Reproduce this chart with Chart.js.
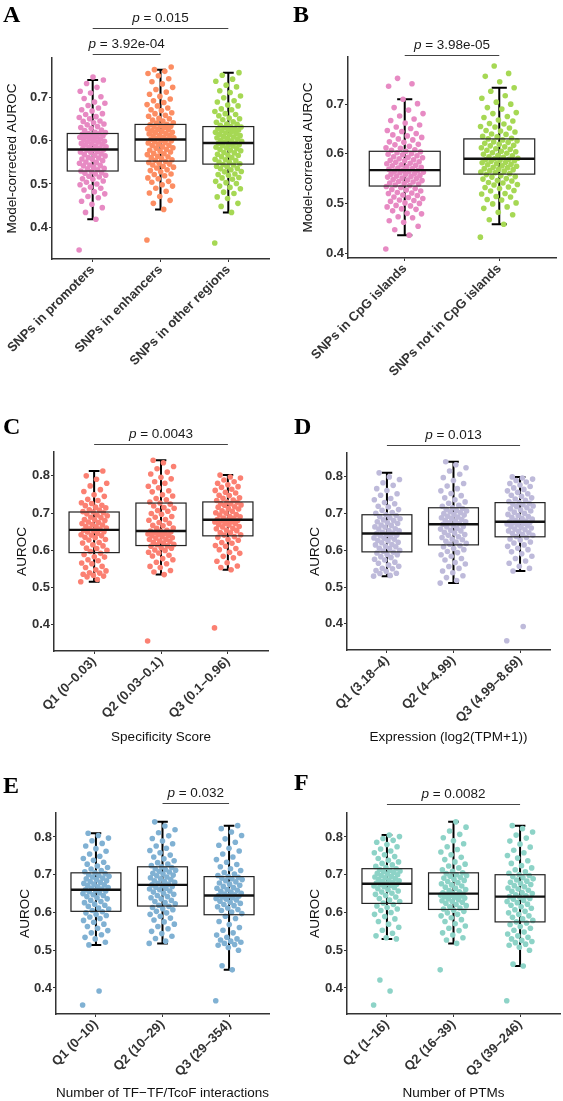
<!DOCTYPE html>
<html>
<head>
<meta charset="utf-8">
<script src="https://cdn.jsdelivr.net/npm/chart.js@4.4.0/dist/chart.umd.min.js"></script>
<style>
  body { margin: 0; background: #fff; }
  #fig { position: relative; width: 563px; height: 1101px; overflow: hidden; background: #fff; }
  canvas { position: absolute; }
  .tag { position: absolute; font: bold 24px/24px "Liberation Serif", "Times New Roman", serif; color: #000; }
</style>
</head>
<body>
<div id="fig">
  <canvas id="cA" width="281" height="380" style="left:0px;top:0px"></canvas>
  <canvas id="cB" width="282" height="380" style="left:281px;top:0px"></canvas>
  <canvas id="cC" width="281" height="366" style="left:0px;top:380px"></canvas>
  <canvas id="cD" width="282" height="366" style="left:281px;top:380px"></canvas>
  <canvas id="cE" width="281" height="356" style="left:0px;top:745px"></canvas>
  <canvas id="cF" width="282" height="356" style="left:281px;top:745px"></canvas>
  <div class="tag" style="left:3px;top:2px">A</div>
  <div class="tag" style="left:293px;top:2px">B</div>
  <div class="tag" style="left:3px;top:414px">C</div>
  <div class="tag" style="left:294px;top:414px">D</div>
  <div class="tag" style="left:3px;top:773px">E</div>
  <div class="tag" style="left:294px;top:770px">F</div>
</div>
<script>
// ---- categories / tick labels ----
const catsA = ['SNPs in promoters', 'SNPs in enhancers', 'SNPs in other regions'];
const catsB = ['SNPs in CpG islands', 'SNPs not in CpG islands'];
const catsC = ['Q1 (0\u20130.03)', 'Q2 (0.03\u20130.1)', 'Q3 (0.1\u20130.96)'];
const catsD = ['Q1 (3.18\u20134)', 'Q2 (4\u20134.99)', 'Q3 (4.99\u20138.69)'];
const catsE = ['Q1 (0\u201310)', 'Q2 (10\u201329)', 'Q3 (29\u2013354)'];
const catsF = ['Q1 (1\u201316)', 'Q2 (16\u201339)', 'Q3 (39\u2013246)'];
const ticksAB = [0.4, 0.5, 0.6, 0.7];
const ticksCF = [0.4, 0.5, 0.6, 0.7, 0.8];

// ---- p-values ----
const pvalsA = ['0.015', '3.92e-04'];
const pvalsB = ['3.98e-05'];
const pvalsC = ['0.0043'];
const pvalsD = ['0.013'];
const pvalsE = ['0.032'];
const pvalsF = ['0.0082'];

// ---- box stats: [lower whisker, Q1, median, Q3, upper whisker] ----
const boxA = [[0.418, 0.530, 0.580, 0.617, 0.741], [0.441, 0.553, 0.603, 0.638, 0.765], [0.434, 0.546, 0.595, 0.633, 0.758]];
const boxB = [[0.436, 0.535, 0.567, 0.605, 0.710], [0.458, 0.559, 0.590, 0.630, 0.733]];
const boxC = [[0.516, 0.594, 0.655, 0.703, 0.813], [0.535, 0.613, 0.652, 0.727, 0.842], [0.548, 0.639, 0.682, 0.730, 0.802]];
const boxD = [[0.530, 0.596, 0.646, 0.697, 0.811], [0.511, 0.615, 0.671, 0.716, 0.841], [0.544, 0.637, 0.678, 0.730, 0.800]];
const boxE = [[0.514, 0.603, 0.660, 0.705, 0.810], [0.518, 0.617, 0.673, 0.721, 0.840], [0.448, 0.594, 0.645, 0.695, 0.830]];
const boxF = [[0.530, 0.624, 0.676, 0.716, 0.805], [0.518, 0.608, 0.650, 0.705, 0.840], [0.458, 0.575, 0.642, 0.700, 0.830]];

// ---- per-TF AUROC values (estimated from the jittered points) ----
const promoters = [0.347, 0.418, 0.434, 0.445, 0.453, 0.460, 0.468, 0.471, 0.477, 0.482, 0.486, 0.490, 0.493, 0.498, 0.500, 0.504, 0.507, 0.511, 0.512, 0.516, 0.518, 0.520, 0.523, 0.525, 0.526, 0.529, 0.530,
  0.533, 0.535, 0.536, 0.539, 0.542, 0.543, 0.544, 0.548, 0.550, 0.551, 0.554, 0.557, 0.558, 0.560, 0.561, 0.565, 0.566, 0.568, 0.570, 0.573, 0.574, 0.575, 0.578, 0.579, 0.580,
  0.582, 0.583, 0.585, 0.586, 0.588, 0.591, 0.592, 0.593, 0.594, 0.597, 0.598, 0.599, 0.601, 0.603, 0.604, 0.605, 0.608, 0.609, 0.610, 0.612, 0.613, 0.615, 0.616, 0.617,
  0.619, 0.620, 0.624, 0.625, 0.629, 0.631, 0.633, 0.637, 0.639, 0.642, 0.645, 0.646, 0.651, 0.654, 0.656, 0.661, 0.663, 0.669, 0.672, 0.676, 0.682, 0.687, 0.690, 0.698, 0.702, 0.711, 0.715, 0.724, 0.733, 0.741, 0.748];
const enhancers = [0.370, 0.441, 0.455, 0.462, 0.471, 0.479, 0.483, 0.490, 0.495, 0.498, 0.504, 0.506, 0.512, 0.514, 0.519, 0.522, 0.523, 0.528, 0.531, 0.533, 0.537, 0.539, 0.541, 0.544, 0.546, 0.548, 0.550, 0.552,
  0.555, 0.556, 0.559, 0.561, 0.563, 0.564, 0.568, 0.570, 0.571, 0.574, 0.576, 0.578, 0.580, 0.583, 0.584, 0.586, 0.589, 0.590, 0.592, 0.595, 0.596, 0.598, 0.600, 0.601, 0.603,
  0.604, 0.605, 0.607, 0.608, 0.611, 0.612, 0.613, 0.616, 0.617, 0.619, 0.620, 0.622, 0.623, 0.626, 0.627, 0.628, 0.631, 0.632, 0.634, 0.635, 0.637, 0.638,
  0.641, 0.642, 0.646, 0.648, 0.651, 0.652, 0.657, 0.659, 0.663, 0.665, 0.670, 0.672, 0.676, 0.681, 0.684, 0.689, 0.693, 0.697, 0.703, 0.708, 0.713, 0.719, 0.724, 0.732, 0.737, 0.744, 0.751, 0.756, 0.761, 0.765, 0.771];
const otherRegions = [0.363, 0.434, 0.448, 0.455, 0.466, 0.470, 0.478, 0.481, 0.489, 0.492, 0.495, 0.501, 0.503, 0.506, 0.511, 0.514, 0.515, 0.520, 0.522, 0.523, 0.528, 0.529, 0.533, 0.535, 0.536, 0.540, 0.541, 0.544, 0.545,
  0.547, 0.550, 0.551, 0.554, 0.556, 0.557, 0.561, 0.563, 0.566, 0.567, 0.569, 0.572, 0.573, 0.577, 0.578, 0.580, 0.582, 0.584, 0.585, 0.588, 0.589, 0.591, 0.592, 0.594, 0.595,
  0.597, 0.599, 0.600, 0.601, 0.604, 0.605, 0.607, 0.609, 0.610, 0.612, 0.614, 0.615, 0.617, 0.618, 0.620, 0.622, 0.623, 0.625, 0.626, 0.628, 0.629, 0.631, 0.632, 0.633,
  0.636, 0.638, 0.639, 0.643, 0.644, 0.649, 0.651, 0.653, 0.658, 0.661, 0.663, 0.668, 0.672, 0.674, 0.681, 0.683, 0.690, 0.693, 0.700, 0.704, 0.712, 0.716, 0.725, 0.729, 0.738, 0.743, 0.752, 0.758];

const cpgIn = [0.408, 0.436, 0.447, 0.454, 0.462, 0.465, 0.471, 0.473, 0.479, 0.480, 0.485, 0.488, 0.489, 0.493, 0.495, 0.496, 0.500, 0.501, 0.504, 0.506, 0.507, 0.510, 0.512, 0.513, 0.516, 0.517, 0.520, 0.521, 0.522, 0.525, 0.527, 0.528, 0.530, 0.532, 0.534,
  0.536, 0.537, 0.539, 0.540, 0.541, 0.543, 0.544, 0.546, 0.547, 0.548, 0.550, 0.551, 0.553, 0.554, 0.555, 0.556, 0.558, 0.559, 0.560, 0.562, 0.563, 0.564, 0.565, 0.566, 0.567,
  0.569, 0.570, 0.571, 0.573, 0.574, 0.576, 0.577, 0.578, 0.580, 0.581, 0.583, 0.584, 0.586, 0.587, 0.588, 0.590, 0.592, 0.593, 0.594, 0.596, 0.598, 0.599, 0.600, 0.602, 0.604, 0.605,
  0.607, 0.608, 0.611, 0.612, 0.615, 0.618, 0.619, 0.623, 0.624, 0.628, 0.630, 0.633, 0.636, 0.638, 0.641, 0.645, 0.647, 0.651, 0.654, 0.658, 0.662, 0.667, 0.670, 0.676, 0.681, 0.688, 0.693, 0.701, 0.710, 0.736, 0.741, 0.752];
const cpgOut = [0.432, 0.458, 0.467, 0.477, 0.482, 0.490, 0.493, 0.499, 0.501, 0.507, 0.508, 0.513, 0.514, 0.519, 0.520, 0.525, 0.526, 0.530, 0.532, 0.533, 0.537, 0.538, 0.541, 0.542, 0.545, 0.546, 0.549, 0.550, 0.553, 0.554, 0.556, 0.558,
  0.560, 0.562, 0.563, 0.565, 0.566, 0.568, 0.569, 0.570, 0.572, 0.573, 0.575, 0.576, 0.578, 0.579, 0.580, 0.582, 0.583, 0.585, 0.586, 0.587, 0.588, 0.589, 0.590,
  0.591, 0.593, 0.594, 0.596, 0.597, 0.599, 0.601, 0.602, 0.604, 0.605, 0.607, 0.609, 0.610, 0.612, 0.614, 0.616, 0.617, 0.619, 0.621, 0.623, 0.624, 0.626, 0.628, 0.630,
  0.631, 0.634, 0.635, 0.639, 0.640, 0.644, 0.646, 0.647, 0.652, 0.654, 0.655, 0.660, 0.661, 0.666, 0.668, 0.673, 0.675, 0.681, 0.683, 0.690, 0.693, 0.700, 0.704, 0.712, 0.717, 0.726, 0.733, 0.745, 0.756, 0.762, 0.777];

const specQ1 = [0.516, 0.522, 0.529, 0.531, 0.533, 0.536, 0.539, 0.540, 0.545, 0.548, 0.554, 0.557, 0.564, 0.566, 0.572, 0.575, 0.582, 0.583, 0.589, 0.592,
  0.597, 0.600, 0.605, 0.606, 0.612, 0.615, 0.620, 0.621, 0.628, 0.629, 0.634, 0.635, 0.639, 0.641, 0.642, 0.646, 0.649, 0.650, 0.653, 0.654,
  0.657, 0.658, 0.660, 0.663, 0.664, 0.668, 0.669, 0.672, 0.675, 0.676, 0.680, 0.682, 0.683, 0.688, 0.689, 0.693, 0.695, 0.698, 0.701, 0.703,
  0.704, 0.708, 0.709, 0.714, 0.716, 0.720, 0.721, 0.726, 0.728, 0.734, 0.737, 0.745, 0.749, 0.758, 0.763, 0.773, 0.780, 0.791, 0.800, 0.813];
const specQ2 = [0.357, 0.535, 0.542, 0.546, 0.554, 0.557, 0.564, 0.568, 0.575, 0.578, 0.585, 0.587, 0.593, 0.595, 0.600, 0.601, 0.606, 0.607, 0.611, 0.612,
  0.615, 0.616, 0.620, 0.621, 0.624, 0.625, 0.629, 0.630, 0.633, 0.634, 0.637, 0.639, 0.640, 0.643, 0.644, 0.646, 0.648, 0.649, 0.651, 0.652,
  0.654, 0.659, 0.660, 0.666, 0.667, 0.673, 0.675, 0.681, 0.683, 0.689, 0.691, 0.697, 0.699, 0.705, 0.707, 0.713, 0.715, 0.719, 0.724, 0.727,
  0.730, 0.736, 0.739, 0.746, 0.749, 0.757, 0.760, 0.768, 0.772, 0.780, 0.784, 0.792, 0.796, 0.805, 0.810, 0.819, 0.825, 0.835, 0.842];
const specQ3 = [0.392, 0.548, 0.554, 0.558, 0.567, 0.571, 0.580, 0.584, 0.592, 0.595, 0.602, 0.605, 0.611, 0.613, 0.619, 0.621, 0.627, 0.629, 0.635, 0.637,
  0.641, 0.642, 0.647, 0.648, 0.653, 0.654, 0.658, 0.659, 0.663, 0.664, 0.668, 0.669, 0.672, 0.673, 0.676, 0.677, 0.679, 0.680, 0.681, 0.683,
  0.686, 0.687, 0.690, 0.691, 0.695, 0.696, 0.700, 0.701, 0.705, 0.706, 0.711, 0.712, 0.716, 0.717, 0.721, 0.722, 0.725, 0.726, 0.729, 0.730,
  0.734, 0.735, 0.740, 0.741, 0.747, 0.748, 0.754, 0.756, 0.761, 0.764, 0.769, 0.771, 0.776, 0.780, 0.784, 0.789, 0.794, 0.797, 0.802];

const exprQ1 = [0.530, 0.532, 0.537, 0.538, 0.543, 0.545, 0.550, 0.551, 0.557, 0.560, 0.565, 0.568, 0.574, 0.576, 0.581, 0.583, 0.588, 0.589, 0.593, 0.595,
  0.598, 0.600, 0.605, 0.606, 0.610, 0.611, 0.615, 0.616, 0.621, 0.622, 0.626, 0.627, 0.630, 0.633, 0.634, 0.637, 0.640, 0.641, 0.644, 0.645,
  0.647, 0.649, 0.653, 0.654, 0.658, 0.659, 0.663, 0.664, 0.668, 0.669, 0.673, 0.675, 0.678, 0.681, 0.683, 0.686, 0.689, 0.692, 0.695, 0.697,
  0.701, 0.703, 0.709, 0.711, 0.718, 0.720, 0.727, 0.730, 0.738, 0.741, 0.750, 0.754, 0.763, 0.768, 0.777, 0.784, 0.793, 0.800, 0.811];
const exprQ2 = [0.511, 0.518, 0.526, 0.531, 0.539, 0.544, 0.551, 0.556, 0.563, 0.567, 0.574, 0.578, 0.584, 0.588, 0.594, 0.597, 0.602, 0.605, 0.610, 0.613,
  0.617, 0.619, 0.623, 0.625, 0.629, 0.631, 0.635, 0.637, 0.641, 0.643, 0.647, 0.649, 0.653, 0.655, 0.658, 0.660, 0.664, 0.665, 0.668, 0.671,
  0.673, 0.675, 0.678, 0.680, 0.682, 0.684, 0.687, 0.689, 0.691, 0.693, 0.696, 0.698, 0.700, 0.703, 0.705, 0.707, 0.709, 0.712, 0.714, 0.716,
  0.720, 0.723, 0.728, 0.732, 0.738, 0.743, 0.749, 0.755, 0.762, 0.768, 0.775, 0.782, 0.790, 0.798, 0.807, 0.816, 0.825, 0.833, 0.841];
const exprQ3 = [0.354, 0.393, 0.544, 0.551, 0.557, 0.565, 0.571, 0.578, 0.584, 0.591, 0.596, 0.602, 0.606, 0.611, 0.615, 0.620, 0.623, 0.628, 0.631, 0.635,
  0.638, 0.641, 0.643, 0.646, 0.648, 0.651, 0.653, 0.656, 0.658, 0.661, 0.663, 0.665, 0.668, 0.670, 0.672, 0.673, 0.675, 0.676, 0.677, 0.678,
  0.680, 0.682, 0.685, 0.687, 0.690, 0.692, 0.695, 0.698, 0.701, 0.704, 0.707, 0.710, 0.713, 0.716, 0.719, 0.721, 0.724, 0.726, 0.728, 0.730,
  0.733, 0.736, 0.740, 0.743, 0.747, 0.750, 0.754, 0.758, 0.762, 0.766, 0.770, 0.774, 0.778, 0.782, 0.786, 0.790, 0.794, 0.797, 0.800];

const tfQ1 = [0.355, 0.392, 0.514, 0.521, 0.530, 0.534, 0.541, 0.546, 0.552, 0.558, 0.563, 0.569, 0.574, 0.579, 0.584, 0.588, 0.592, 0.595, 0.599, 0.602,
  0.605, 0.609, 0.612, 0.616, 0.619, 0.622, 0.626, 0.629, 0.632, 0.636, 0.639, 0.642, 0.645, 0.647, 0.650, 0.652, 0.655, 0.657, 0.659, 0.660,
  0.662, 0.664, 0.666, 0.668, 0.671, 0.673, 0.675, 0.677, 0.680, 0.682, 0.684, 0.687, 0.689, 0.691, 0.694, 0.696, 0.698, 0.700, 0.703, 0.705,
  0.708, 0.711, 0.715, 0.719, 0.723, 0.728, 0.733, 0.738, 0.743, 0.749, 0.755, 0.762, 0.769, 0.776, 0.783, 0.790, 0.797, 0.804, 0.810];
const tfQ2 = [0.518, 0.524, 0.531, 0.537, 0.544, 0.550, 0.557, 0.563, 0.569, 0.575, 0.580, 0.585, 0.590, 0.595, 0.599, 0.603, 0.607, 0.610, 0.613, 0.616,
  0.619, 0.623, 0.626, 0.629, 0.632, 0.636, 0.639, 0.642, 0.645, 0.648, 0.651, 0.654, 0.657, 0.660, 0.662, 0.664, 0.667, 0.669, 0.671, 0.673,
  0.675, 0.677, 0.680, 0.682, 0.684, 0.687, 0.689, 0.692, 0.694, 0.697, 0.699, 0.702, 0.704, 0.707, 0.709, 0.712, 0.714, 0.716, 0.719, 0.721,
  0.724, 0.728, 0.732, 0.737, 0.742, 0.747, 0.752, 0.758, 0.764, 0.770, 0.776, 0.782, 0.789, 0.796, 0.803, 0.811, 0.819, 0.829, 0.840];
const tfQ3 = [0.366, 0.448, 0.459, 0.500, 0.507, 0.513, 0.515, 0.518, 0.521, 0.524, 0.527, 0.530, 0.534, 0.540, 0.546, 0.553, 0.560, 0.568, 0.576, 0.584, 0.590,
  0.597, 0.601, 0.605, 0.608, 0.612, 0.615, 0.618, 0.621, 0.624, 0.627, 0.630, 0.633, 0.635, 0.637, 0.639, 0.641, 0.643, 0.644, 0.645,
  0.647, 0.649, 0.651, 0.654, 0.656, 0.659, 0.661, 0.664, 0.666, 0.669, 0.672, 0.675, 0.678, 0.681, 0.684, 0.687, 0.689, 0.691, 0.693, 0.695,
  0.698, 0.702, 0.706, 0.711, 0.716, 0.721, 0.727, 0.733, 0.740, 0.747, 0.755, 0.763, 0.770, 0.778, 0.786, 0.795, 0.804, 0.813, 0.822, 0.830];

const ptmQ1 = [0.355, 0.392, 0.421, 0.530, 0.533, 0.538, 0.545, 0.553, 0.561, 0.569, 0.576, 0.583, 0.589, 0.595, 0.600, 0.605, 0.609, 0.613, 0.617, 0.621,
  0.625, 0.629, 0.633, 0.637, 0.641, 0.645, 0.648, 0.651, 0.654, 0.657, 0.660, 0.663, 0.666, 0.668, 0.670, 0.672, 0.674, 0.675, 0.676,
  0.678, 0.680, 0.682, 0.684, 0.686, 0.688, 0.690, 0.692, 0.694, 0.696, 0.698, 0.700, 0.702, 0.704, 0.706, 0.708, 0.710, 0.712, 0.714, 0.716,
  0.719, 0.722, 0.726, 0.730, 0.734, 0.738, 0.743, 0.748, 0.753, 0.758, 0.763, 0.768, 0.774, 0.780, 0.786, 0.791, 0.796, 0.801, 0.805];
const ptmQ2 = [0.448, 0.518, 0.527, 0.533, 0.540, 0.546, 0.552, 0.558, 0.564, 0.570, 0.576, 0.581, 0.586, 0.591, 0.595, 0.599, 0.603, 0.606, 0.609,
  0.612, 0.615, 0.618, 0.621, 0.624, 0.627, 0.629, 0.631, 0.634, 0.636, 0.638, 0.640, 0.642, 0.644, 0.645, 0.646, 0.647, 0.648, 0.649, 0.650,
  0.652, 0.655, 0.658, 0.661, 0.664, 0.667, 0.670, 0.673, 0.676, 0.679, 0.682, 0.685, 0.688, 0.691, 0.693, 0.696, 0.698, 0.700, 0.703, 0.705,
  0.709, 0.713, 0.718, 0.723, 0.728, 0.734, 0.740, 0.746, 0.753, 0.760, 0.767, 0.774, 0.782, 0.790, 0.798, 0.807, 0.816, 0.826, 0.840];
const ptmQ3 = [0.366, 0.458, 0.463, 0.500, 0.508, 0.513, 0.516, 0.520, 0.523, 0.526, 0.530, 0.534, 0.538, 0.543, 0.548, 0.553, 0.558, 0.563, 0.568, 0.572, 0.575,
  0.579, 0.583, 0.587, 0.591, 0.595, 0.599, 0.603, 0.607, 0.611, 0.615, 0.619, 0.622, 0.626, 0.629, 0.632, 0.635, 0.637, 0.640, 0.642,
  0.644, 0.647, 0.650, 0.653, 0.656, 0.659, 0.662, 0.665, 0.668, 0.671, 0.674, 0.677, 0.680, 0.683, 0.686, 0.689, 0.692, 0.695, 0.698, 0.700,
  0.704, 0.708, 0.713, 0.718, 0.724, 0.730, 0.737, 0.744, 0.751, 0.758, 0.765, 0.773, 0.781, 0.789, 0.797, 0.805, 0.813, 0.822, 0.830];

const FONT = '"Liberation Sans", Arial, Helvetica, sans-serif';

// horizontal jitter inside a category (deterministic, spread of +/-0.2 category units)
const jitter = i => ((i * 0.618034) % 1 - 0.5) * 0.4;

function boxPlugin(cfg) {
  return {
    id: 'boxes' + cfg.canvas,
    beforeDatasetsDraw(chart) {
      // errorbar whiskers, under the points
      const {ctx, scales: {x, y}} = chart;
      ctx.save();
      ctx.strokeStyle = '#000';
      ctx.lineWidth = 2;
      cfg.stats.forEach((s, g) => {
        const cx = x.getPixelForValue(g + 1);
        const hw = x.getPixelForValue(g + 1.08) - cx;
        ctx.beginPath();
        ctx.moveTo(cx, y.getPixelForValue(s[0]));
        ctx.lineTo(cx, y.getPixelForValue(s[4]));
        [s[0], s[4]].forEach(v => {
          const py = y.getPixelForValue(v);
          ctx.moveTo(cx - hw, py);
          ctx.lineTo(cx + hw, py);
        });
        ctx.stroke();
      });
      ctx.restore();
    },
    afterDatasetsDraw(chart) {
      const {ctx, scales: {x, y}} = chart;
      ctx.save();
      cfg.stats.forEach((s, g) => {
        const x0 = x.getPixelForValue(g + 1 - 0.375);
        const x1 = x.getPixelForValue(g + 1 + 0.375);
        const yq1 = y.getPixelForValue(s[1]);
        const yq3 = y.getPixelForValue(s[3]);
        const ym = y.getPixelForValue(s[2]);
        ctx.strokeStyle = '#222';
        ctx.lineWidth = 1.2;
        ctx.strokeRect(x0, yq3, x1 - x0, yq1 - yq3);
        ctx.strokeStyle = '#111';
        ctx.lineWidth = 2.4;
        ctx.beginPath();
        ctx.moveTo(x0, ym);
        ctx.lineTo(x1, ym);
        ctx.stroke();
      });
      ctx.restore();
    },
    afterDraw(chart) {
      // significance brackets with p-values
      const {ctx, scales: {x, y}} = chart;
      ctx.save();
      cfg.brackets.forEach(b => {
        const xa = x.getPixelForValue(b.from);
        const xb = x.getPixelForValue(b.to);
        const py = Math.round(y.getPixelForValue(b.at)) + 0.5;
        ctx.strokeStyle = '#444';
        ctx.lineWidth = 1;
        ctx.beginPath();
        ctx.moveTo(xa, py);
        ctx.lineTo(xb, py);
        ctx.stroke();
        const rest = ' = ' + b.p;
        ctx.font = 'italic 13.5px ' + FONT;
        const w1 = ctx.measureText('p').width;
        ctx.font = '13.5px ' + FONT;
        const w2 = ctx.measureText(rest).width;
        const start = (xa + xb) / 2 - (w1 + w2) / 2;
        ctx.fillStyle = '#1a1a1a';
        ctx.textBaseline = 'alphabetic';
        ctx.textAlign = 'left';
        ctx.font = 'italic 13.5px ' + FONT;
        ctx.fillText('p', start, py - 7);
        ctx.font = '13.5px ' + FONT;
        ctx.fillText(rest, start + w1, py - 7);
      });
      ctx.restore();
    }
  };
}

function makeChart(cfg) {
  const datasets = cfg.groups.map((vals, g) => ({
    data: vals.map((v, i) => ({x: g + 1 + jitter(i), y: v})),
    backgroundColor: cfg.colors[g],
    borderWidth: 0,
    pointRadius: 2.8,
    pointHoverRadius: 2.8
  }));

  new Chart(document.getElementById(cfg.canvas), {
    type: 'scatter',
    data: {datasets},
    options: {
      responsive: false,
      animation: false,
      devicePixelRatio: 1,
      events: [],
      layout: {padding: {top: cfg.padTop, right: cfg.padRight, left: 0, bottom: 0}},
      plugins: {legend: {display: false}, tooltip: {enabled: false}},
      scales: {
        x: {
          type: 'linear',
          min: 0.4,
          max: cfg.xMax,
          afterBuildTicks: s => { s.ticks = cfg.categories.map((c, i) => ({value: i + 1})); },
          afterFit: s => { s.height = cfg.xHeight; },
          ticks: {
            autoSkip: false,
            minRotation: 45,
            maxRotation: 45,
            padding: 0,
            color: '#333',
            font: {family: FONT, size: 13, weight: 'bold'},
            callback: (v, i) => cfg.categories[i]
          },
          grid: {display: true, drawOnChartArea: false, drawTicks: true, tickLength: 3, color: '#333', lineWidth: 1},
          border: {display: true, color: '#333', width: 1.5},
          title: {
            display: !!cfg.xTitle,
            text: cfg.xTitle || '',
            color: '#111',
            font: {family: FONT, size: 13.5},
            padding: {top: 0, bottom: cfg.xTitlePad || 0}
          }
        },
        y: {
          min: cfg.yMin,
          max: cfg.yMax,
          afterBuildTicks: s => { s.ticks = cfg.yTicks.map(v => ({value: v})); },
          afterFit: s => { s.width = cfg.yWidth; },
          ticks: {
            padding: 1,
            color: '#333',
            font: {family: FONT, size: 13, weight: 'bold'},
            callback: v => v.toFixed(1)
          },
          grid: {display: true, drawOnChartArea: false, drawTicks: true, tickLength: 3, color: '#333', lineWidth: 1},
          border: {display: true, color: '#333', width: 1.5},
          title: {
            display: true,
            text: cfg.yTitle,
            color: '#111',
            font: {family: FONT, size: 13.5},
            padding: {top: cfg.yTitlePad, bottom: 0}
          }
        }
      }
    },
    plugins: [boxPlugin(cfg)]
  });
}

makeChart({
  canvas: 'cA', categories: catsA, groups: [promoters, enhancers, otherRegions], stats: boxA,
  colors: ['#E78AC3', '#FC8D62', '#A6D854'],
  yMin: 0.326, yMax: 0.792, yTicks: ticksAB, xMax: 3.6,
  padTop: 58, padRight: 12, yWidth: 52, xHeight: 121,
  yTitle: 'Model-corrected AUROC', yTitlePad: 4.4,
  brackets: [{from: 1, to: 3, at: 0.861, p: pvalsA[0]}, {from: 1, to: 2, at: 0.801, p: pvalsA[1]}]
});
makeChart({
  canvas: 'cB', categories: catsB, groups: [cpgIn, cpgOut], stats: boxB,
  colors: ['#E78AC3', '#A6D854'],
  yMin: 0.39, yMax: 0.795, yTicks: ticksAB, xMax: 2.6,
  padTop: 57, padRight: 7, yWidth: 67, xHeight: 122,
  yTitle: 'Model-corrected AUROC', yTitlePad: 19.4,
  brackets: [{from: 1, to: 2, at: 0.80, p: pvalsB[0]}]
});
makeChart({
  canvas: 'cC', categories: catsC, groups: [specQ1, specQ2, specQ3], stats: boxC,
  colors: ['#FB8072', '#FB8072', '#FB8072'],
  yMin: 0.330, yMax: 0.864, yTicks: ticksCF, xMax: 3.6,
  padTop: 72, padRight: 13, yWidth: 54, xHeight: 95,
  yTitle: 'AUROC', yTitlePad: 14.4, xTitle: 'Specificity Score', xTitlePad: 0.9,
  brackets: [{from: 1, to: 3, at: 0.886, p: pvalsC[0]}]
});
makeChart({
  canvas: 'cD', categories: catsD, groups: [exprQ1, exprQ2, exprQ3], stats: boxD,
  colors: ['#BEBADA', '#BEBADA', '#BEBADA'],
  yMin: 0.329, yMax: 0.865, yTicks: ticksCF, xMax: 3.45,
  padTop: 73, padRight: 13, yWidth: 66, xHeight: 96,
  yTitle: 'AUROC', yTitlePad: 26.4, xTitle: 'Expression (log2(TPM+1))', xTitlePad: 0.9,
  brackets: [{from: 1, to: 3, at: 0.887, p: pvalsD[0]}]
});
makeChart({
  canvas: 'cE', categories: catsE, groups: [tfQ1, tfQ2, tfQ3], stats: boxE,
  colors: ['#80B1D3', '#80B1D3', '#80B1D3'],
  yMin: 0.331, yMax: 0.8635, yTicks: ticksCF, xMax: 3.6,
  padTop: 68, padRight: 12, yWidth: 56, xHeight: 87,
  yTitle: 'AUROC', yTitlePad: 17, xTitle: 'Number of TF\u2212TF/TcoF interactions', xTitlePad: 0,
  brackets: [{from: 2, to: 3, at: 0.89, p: pvalsE[0]}]
});
makeChart({
  canvas: 'cF', categories: catsF, groups: [ptmQ1, ptmQ2, ptmQ3], stats: boxF,
  colors: ['#8DD3C7', '#8DD3C7', '#8DD3C7'],
  yMin: 0.331, yMax: 0.8635, yTicks: ticksCF, xMax: 3.6,
  padTop: 68, padRight: 3, yWidth: 66, xHeight: 87,
  yTitle: 'AUROC', yTitlePad: 26.4, xTitle: 'Number of PTMs', xTitlePad: 0,
  brackets: [{from: 1, to: 3, at: 0.887, p: pvalsF[0]}]
});
</script>
</body>
</html>
